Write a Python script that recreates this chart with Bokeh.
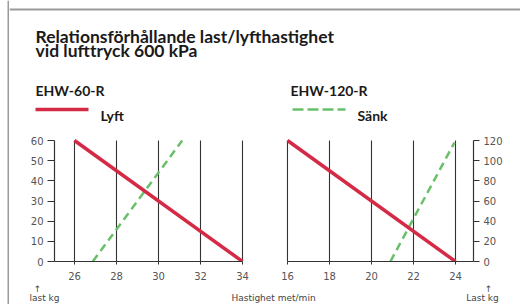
from bokeh.plotting import figure
from bokeh.layouts import row, column
from bokeh.models import Range1d, FixedTicker
from bokeh.core.properties import value
from bokeh.embed import file_html
from bokeh.resources import INLINE

# ---- data ----
title_lines = ["Relationsförhållande last/lyfthastighet", "vid lufttryck 600 kPa"]
model_names = ["EHW-60-R", "EHW-120-R"]
series_names = ["Lyft", "Sänk"]

left_x_ticks = [26, 28, 30, 32, 34]
left_y_ticks = [0, 10, 20, 30, 40, 50, 60]
right_x_ticks = [16, 18, 20, 22, 24]
right_y_ticks = [0, 20, 40, 60, 80, 100, 120]

lyft60_x = [26, 34]
lyft60_y = [60, 0]
sank60_x = [26.87, 31.13]
sank60_y = [0, 60]

lyft120_x = [16, 24]
lyft120_y = [120, 0]
sank120_x = [20.9, 23.95]
sank120_y = [0, 118]

x_label = "Hastighet met/min"
y_label_left = "last kg"
y_label_right = "Last kg"

RED = "#d42a45"
GREEN = "#6abf69"
FRAME = "#9a9a9a"
AX = "#333333"
TXT = "#1a1a1a"
TICKC = "#555555"


def blank(w, h, xr, yr):
    f = figure(width=w, height=h, x_range=xr, y_range=yr, min_border=0,
               x_axis_type=None, y_axis_type=None, toolbar_location=None,
               output_backend="svg", outline_line_color=None)
    f.grid.visible = False
    return f


# ---- left frame strip ----
strip = blank(9, 304, Range1d(0, 9), Range1d(0, 1))
strip.line(x=[8, 8], y=[0, 1], line_width=2, color=FRAME)

# ---- header ----
hdr = blank(511, 132, Range1d(9, 520), Range1d(132, 0))
hdr.line(x=[9, 520], y=[9, 9], line_width=2, color=FRAME)
bold = dict(text_font=value("Lato"), text_font_style="bold", text_color=TXT,
            text_baseline="alphabetic")
hdr.text(x=[35, 35], y=[36, 50], text=title_lines, text_font_size="17.5px", **bold)
hdr.text(x=[35, 290], y=[90, 90], text=model_names, text_font_size="14px", **bold)
hdr.line(x=[35, 88], y=[109, 109], line_width=3.5, color=RED)
hdr.line(x=[292, 345], y=[109, 109], line_width=2.5, color=GREEN, line_dash="11 4")
hdr.text(x=[100, 357], y=[115, 115], text=series_names, text_font_size="14px", **bold)


def style_axes(p, xt, yt, xb, yb, ytick_out):
    p.grid.visible = False
    for ax in (p.xaxis[0], p.yaxis[0]):
        ax.axis_line_color = AX
        ax.axis_line_width = 1.2
        ax.major_tick_line_color = AX
        ax.major_tick_in = 0
        ax.minor_tick_out = 0
        ax.minor_tick_in = 0
        ax.major_label_text_font = "DejaVu Sans"
        ax.major_label_text_font_size = "10px"
        ax.major_label_text_color = TICKC
    p.xaxis.ticker = FixedTicker(ticks=xt)
    p.yaxis.ticker = FixedTicker(ticks=yt)
    p.xaxis.bounds = xb
    p.yaxis.bounds = yb
    p.xaxis.major_tick_out = 3
    p.xaxis.major_label_standoff = 7
    p.yaxis.major_tick_out = ytick_out
    p.yaxis.major_label_standoff = 4
    p.segment(x0=xt, y0=[yt[0]] * len(xt), x1=xt, y1=[yt[-1]] * len(xt),
              line_color=AX, line_width=1.1)


# ---- left chart ----
pl = figure(width=251, height=150, x_range=Range1d(25.048, 34.286), y_range=Range1d(0, 62.48),
            min_border_left=45, min_border_right=12, min_border_top=3, min_border_bottom=21,
            toolbar_location=None, output_backend="svg", outline_line_color=None)
style_axes(pl, left_x_ticks, left_y_ticks, (25.048, 34), (0, 60), 7)
pl.line(sank60_x, sank60_y, line_width=2.5, color=GREEN, line_dash="8 5")
pl.line(lyft60_x, lyft60_y, line_width=3.5, color=RED)

# ---- right chart ----
pr = figure(width=260, height=150, x_range=Range1d(15.81, 24.857), y_range=Range1d(0, 124.96),
            y_axis_location="right",
            min_border_left=23, min_border_right=47, min_border_top=3, min_border_bottom=21,
            toolbar_location=None, output_backend="svg", outline_line_color=None)
style_axes(pr, right_x_ticks, right_y_ticks, (16, 24.857), (0, 120), 6)
pr.line(sank120_x, sank120_y, line_width=2.5, color=GREEN, line_dash="8 5")
pr.line(lyft120_x, lyft120_y, line_width=3.5, color=RED)

# ---- footer ----
ftr = blank(511, 22, Range1d(9, 520), Range1d(304, 282))
small = dict(text_font=value("DejaVu Sans"), text_color="#444444", text_font_size="9px",
             text_align="center", text_baseline="middle")
ftr.text(x=[37, 488], y=[288, 288], text=["↑", "↑"], **small)
ftr.text(x=[44, 273, 482], y=[297, 297, 297], text=[y_label_left, x_label, y_label_right], **small)

layout = row(strip, column(hdr, row(pl, pr), ftr))
open("out.html", "w").write(file_html(layout, INLINE))
